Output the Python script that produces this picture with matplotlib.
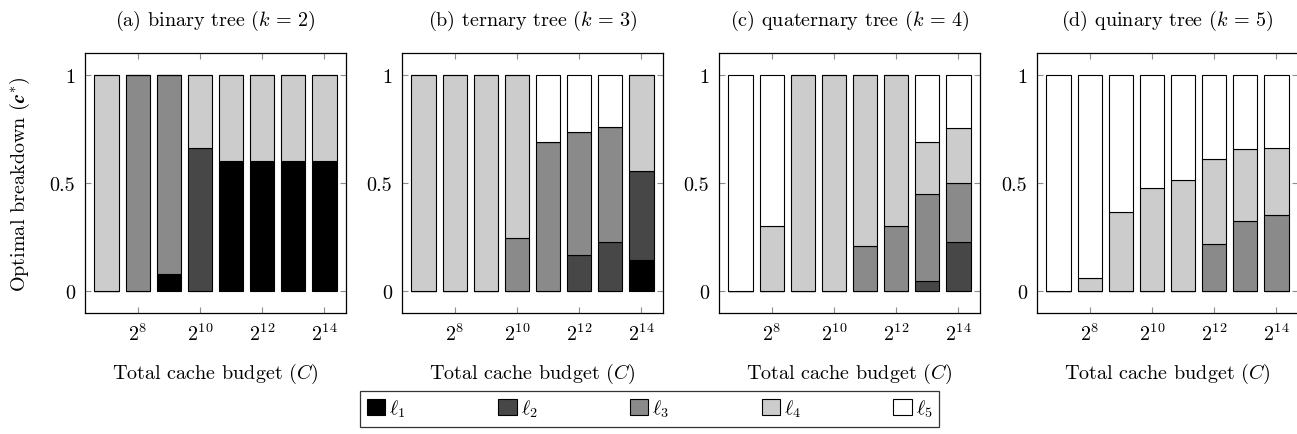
import numpy as np
import matplotlib
matplotlib.use("Agg")
import matplotlib.pyplot as plt
from matplotlib.patches import Patch
from matplotlib.ticker import NullLocator

plt.rcParams.update(
    {
        "font.family": "serif",
        "font.serif": ["cmr10"],
        "mathtext.fontset": "cm",
        "axes.formatter.use_mathtext": True,
        "axes.linewidth": 0.9,
        "font.size": 14.5,
    }
)

# cache budgets C = 2^7 .. 2^14
budget_exp = [7, 8, 9, 10, 11, 12, 13, 14]
tick_exp = [8, 10, 12, 14]
tick_labels = [r"$2^{8}$", r"$2^{10}$", r"$2^{12}$", r"$2^{14}$"]

titles = [
    r"(a) binary tree ($k\,=\,2$)",
    r"(b) ternary tree ($k\,=\,3$)",
    r"(c) quaternary tree ($k\,=\,4$)",
    r"(d) quinary tree ($k\,=\,5$)",
]
layer_names = [r"$\ell_1$", r"$\ell_2$", r"$\ell_3$", r"$\ell_4$", r"$\ell_5$"]
layer_colors = ["#000000", "#474747", "#8a8a8a", "#cccccc", "#ffffff"]

# share of cache per level, one list per level (l1..l5), per tree
binary_l1 = [0, 0, 0.08, 0, 0.6, 0.6, 0.6, 0.6]
binary_l2 = [0, 0, 0, 0.663, 0, 0, 0, 0]
binary_l3 = [0, 1, 0.92, 0, 0, 0, 0, 0]
binary_l4 = [1, 0, 0, 0.337, 0.4, 0.4, 0.4, 0.4]
binary_l5 = [0, 0, 0, 0, 0, 0, 0, 0]

ternary_l1 = [0, 0, 0, 0, 0, 0, 0, 0.143]
ternary_l2 = [0, 0, 0, 0, 0, 0.167, 0.228, 0.412]
ternary_l3 = [0, 0, 0, 0.244, 0.688, 0.57, 0.529, 0]
ternary_l4 = [1, 1, 1, 0.756, 0, 0, 0, 0.445]
ternary_l5 = [0, 0, 0, 0, 0.312, 0.263, 0.243, 0]

quaternary_l1 = [0, 0, 0, 0, 0, 0, 0, 0]
quaternary_l2 = [0, 0, 0, 0, 0, 0, 0.049, 0.226]
quaternary_l3 = [0, 0, 0, 0, 0.207, 0.3, 0.398, 0.274]
quaternary_l4 = [0, 0.301, 1, 1, 0.793, 0.7, 0.243, 0.253]
quaternary_l5 = [1, 0.699, 0, 0, 0, 0, 0.31, 0.247]

quinary_l1 = [0, 0, 0, 0, 0, 0, 0, 0]
quinary_l2 = [0, 0, 0, 0, 0, 0, 0, 0]
quinary_l3 = [0, 0, 0, 0, 0, 0.217, 0.323, 0.351]
quinary_l4 = [0, 0.06, 0.366, 0.478, 0.515, 0.396, 0.333, 0.312]
quinary_l5 = [1, 0.94, 0.634, 0.522, 0.485, 0.387, 0.344, 0.337]

panels = [
    [binary_l1, binary_l2, binary_l3, binary_l4, binary_l5],
    [ternary_l1, ternary_l2, ternary_l3, ternary_l4, ternary_l5],
    [quaternary_l1, quaternary_l2, quaternary_l3, quaternary_l4, quaternary_l5],
    [quinary_l1, quinary_l2, quinary_l3, quinary_l4, quinary_l5],
]


def main():
    W, H = 1297, 435
    fig = plt.figure(figsize=(W / 100, H / 100), dpi=100)
    lefts = [85, 402, 719, 1037]
    ax_w, ax_top, ax_bot = 261, 54, 314

    x = np.array(budget_exp, dtype=float)
    half = 0.395
    bar_left = 2.0 ** (x - half)
    bar_width = 2.0 ** (x + half) - bar_left

    for i, layers in enumerate(panels):
        ax = fig.add_axes(
            [lefts[i] / W, 1 - ax_bot / H, ax_w / W, (ax_bot - ax_top) / H]
        )
        ax.set_xscale("log", base=2)
        bottom = np.zeros(len(x))
        for vals, col in zip(layers, layer_colors):
            vals = np.array(vals, dtype=float)
            ax.bar(
                bar_left, vals, width=bar_width, bottom=bottom, align="edge",
                color=col, edgecolor="black", linewidth=0.8, zorder=3,
            )
            bottom += vals
        ax.set_xlim(2.0 ** 6.3, 2.0 ** 14.7)
        ax.set_ylim(-0.1, 1.1)
        ax.set_xticks([2.0 ** e for e in tick_exp], labels=tick_labels)
        ax.xaxis.set_minor_locator(NullLocator())
        ax.set_yticks([0, 0.5, 1], labels=["0", "0.5", "1"])
        ax.tick_params(
            which="both", direction="in", top=True, right=True,
            length=4.5, width=0.8, color="0.55", labelsize=14.5, pad=7,
        )
        ax.tick_params(axis="x", pad=7)
        ax.set_title(titles[i], fontsize=14.5, pad=20)
        ax.set_xlabel(r"Total cache budget ($C$)", fontsize=14.5, labelpad=12)
        if i == 0:
            ax.set_ylabel(r"Optimal breakdown ($\mathbfit{c}^{*}$)", fontsize=14.5,
                          labelpad=13)

    handles = [
        Patch(facecolor=c, edgecolor="black", linewidth=0.8) for c in layer_colors
    ]
    fig.legend(
        handles, layer_names, loc="upper center", bbox_to_anchor=(0.501, 1 - 392 / H),
        ncol=5, frameon=True, fancybox=False, edgecolor="black",
        handlelength=0.9, handleheight=0.9, handletextpad=0.2,
        columnspacing=4.6, borderpad=0.35, borderaxespad=0, fontsize=14.5,
    ).get_frame().set_linewidth(0.9)

    fig.savefig("out.png", dpi=100)
    plt.close(fig)


if __name__ == "__main__":
    main()
